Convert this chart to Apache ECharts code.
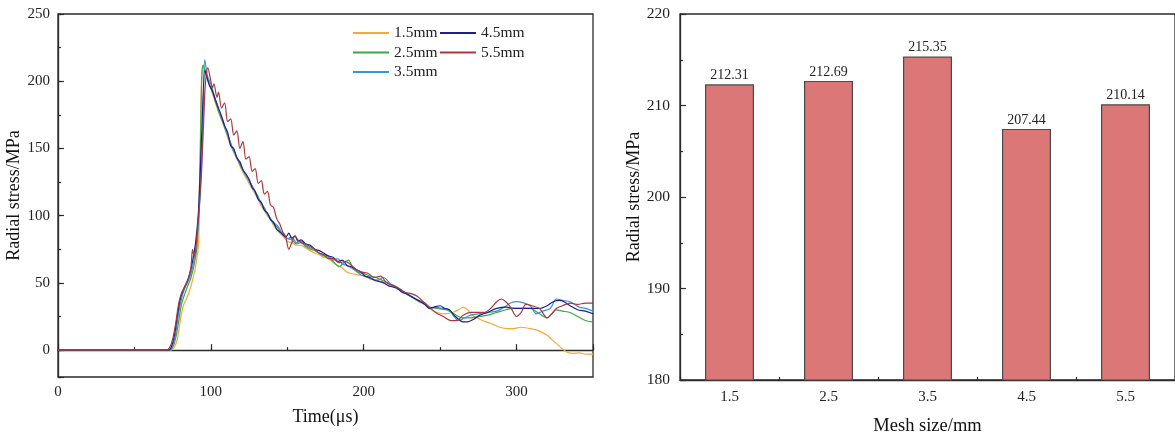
<!DOCTYPE html>
<html>
<head>
<meta charset="utf-8">
<script src="https://cdn.jsdelivr.net/npm/echarts@6/dist/echarts.min.js"></script>
<style>
html,body{margin:0;padding:0;background:#fff;}
#c{width:1175px;height:441px;}
</style>
</head>
<body>
<div id="c"></div>
<script>
// ---------- Left chart: radial stress vs time (t in µs, stress in MPa) ----------
const seriesNames = ['1.5mm', '2.5mm', '3.5mm', '4.5mm', '5.5mm'];
const seriesColors = ['#F8A83A', '#3BA944', '#3A95D5', '#1E1E94', '#A9393F'];

const stress15 = [[0,0],[74,0],[76,2],[78,8],[80,22],[82,33],[84,38],[86,44],[88,52],[90,62],[92,80],[93,150],[94,205],[95,212],[97,205],[99,198],[101,191],[103,184],[105,177],[107,171],[109,165],[111,158],[113,152],[115,147],[117,142],[119,137],[121,132],[123,128],[125,124],[127,120],[129,116],[131,112],[133,107],[135,104],[137,100],[139,97],[141,93],[143,90],[145,87],[147,85],[150,81],[153,80],[156,78],[159,78],[162,76],[165,74],[168,72],[171,71],[174,69],[177,68],[180,65],[183,63],[186,61],[189,58],[192,57],[196,56],[200,55],[204,53],[208,52],[212,51],[216,50],[220,47],[224,45],[228,42],[232,39],[236,36],[240,34],[243,31],[248,28],[253,27],[258,28],[262,30],[265,32],[268,30],[271,26],[276,23],[280,21],[285,19],[289,17],[294,16],[298,16],[303,17],[309,16],[313,15],[317,13],[320,11],[323,8],[326,5],[330,1],[333,-1.5],[337,-2.5],[341,-2],[345,-3],[350,-3]];

const stress25 = [[0,0],[73,0],[75,2],[77,9],[79,22],[81,35],[83,42],[85,48],[87,54],[89,63],[91,78],[93,140],[94,200],[95,212],[97,204],[99,198],[101,192],[103,185],[105,178],[107,172],[109,166],[111,160],[113,154],[115,148],[117,143],[119,138],[121,134],[123,130],[125,126],[127,122],[129,118],[131,114],[133,109],[135,106],[137,101],[139,98],[141,94],[143,92],[145,89],[147,86],[150,83],[153,82],[156,79],[159,80],[162,77],[165,75],[168,74],[171,72],[174,70],[177,69],[180,66],[184,62],[187,65],[190,67],[193,61],[196,58],[200,57],[204,55],[208,54],[212,52],[216,50],[220,48],[224,45],[228,42],[232,39],[236,37],[240,35],[243,32],[248,31],[254,30],[259,27],[265,24],[270,24],[276,25],[281,26],[287,28],[293,30],[298,31],[304,31],[309,31],[315,27],[320,24],[323,27],[326,30],[330,29],[335,28],[340,25],[345,22],[350,21]];

const stress35 = [[0,0],[73,0],[75,3],[77,12],[79,28],[81,39],[83,46],[85,51],[87,57],[89,67],[91,84],[93,115],[95,175],[96,216],[98,203],[100,198],[102,190],[104,183],[106,176],[108,170],[110,163],[112,157],[114,150],[116,146],[118,141],[120,137],[122,132],[124,128],[126,124],[128,120],[130,115],[132,111],[134,107],[136,103],[138,100],[140,96],[142,94],[144,92],[146,88],[148,86],[150,83],[153,84],[156,80],[159,81],[162,78],[165,76],[168,75],[171,72],[174,71],[177,70],[180,67],[183,68],[186,64],[189,63],[192,61],[195,59],[198,56],[201,55],[205,53],[209,52],[213,54],[217,50],[221,46],[225,44],[229,41],[233,39],[237,36],[240,34],[243,31],[247,32],[251,31],[256,30],[259,25],[262,22],[266,24],[270,26],[275,27],[281,28],[287,29],[292,32],[296,35],[300,36],[305,35],[309,33],[313,27],[317,29],[322,31],[326,38],[330,37],[335,36],[341,32],[345,31],[350,29]];

const stress45 = [[0,0],[72,0],[74,2],[76,10],[78,25],[80,38],[82,45],[84,50],[86,56],[88,66],[90,80],[92,105],[94,160],[96,208],[97,205],[99,197],[101,193],[103,186],[105,180],[107,174],[109,167],[111,162],[113,152],[115,150],[117,143],[119,140],[121,134],[123,131],[125,127],[127,121],[129,118],[131,112],[133,110],[135,104],[137,102],[139,97],[141,95],[143,90],[145,88],[147,86],[149,84],[151,87],[153,83],[155,85],[157,81],[159,82],[162,79],[165,78],[168,75],[171,74],[174,72],[177,70],[180,69],[183,66],[186,67],[189,63],[192,62],[195,60],[198,58],[201,55],[204,54],[207,52],[210,51],[213,50],[216,48],[219,47],[222,46],[225,43],[228,42],[231,40],[234,38],[237,36],[240,34],[243,31],[246,32],[250,33],[253,31],[256,30],[260,25],[265,21],[268,21],[272,23],[276,26],[281,28],[287,31],[293,32],[299,31],[304,31],[310,31],[315,31],[320,33],[324,36],[328,37],[331,36],[335,33],[340,30],[345,29],[350,27]];

const stress55 = [[0,0],[71,0],[73,2],[75,8],[77,20],[79,35],[81,43],[83,47],[85,52],[87,62],[88,75],[89,70],[90,74],[92,100],[94,135],[96,190],[97,205],[98,210],[100,200],[101,195],[102,198],[104,188],[105,192],[107,180],[109,184],[111,170],[113,172],[115,160],[117,163],[119,150],[121,155],[123,142],[125,144],[127,133],[129,135],[131,124],[133,126],[135,116],[137,118],[139,108],[141,106],[143,98],[145,94],[147,88],[149,84],[151,75],[153,80],[155,85],[157,82],[159,80],[162,79],[165,77],[168,75],[171,72],[174,71],[177,68],[180,68],[184,65],[188,66],[192,63],[195,60],[199,58],[203,57],[207,54],[211,55],[215,50],[219,48],[223,46],[227,43],[231,42],[235,40],[239,36],[243,32],[247,28],[252,25],[257,22],[261,22],[265,26],[270,28],[275,28],[279,28],[283,31],[287,36],[290,38],[293,36],[296,32],[300,25],[303,28],[306,34],[310,33],[315,31],[320,24],[323,27],[326,31],[330,33],[335,35],[340,34],[345,35],[350,35]];

const lineData = [stress15, stress25, stress35, stress45, stress55];

// ---------- Right chart: peak radial stress vs mesh size ----------
const meshSizes = ['1.5', '2.5', '3.5', '4.5', '5.5'];
const peakStress = [212.31, 212.69, 215.35, 207.44, 210.14];

const FONT = '"Liberation Serif", "Times New Roman", serif';
const AX = '#2b2b2b';

const chart = echarts.init(document.getElementById('c'), null, {renderer: 'canvas'});

const lineSeries = seriesNames.map((n, i) => ({
  name: n,
  type: 'line',
  xAxisIndex: 0,
  yAxisIndex: 0,
  data: lineData[i],
  symbol: 'none',
  showSymbol: false,
  smooth: 0.3,
  lineStyle: {width: 1.2, color: seriesColors[i]},
  itemStyle: {color: seriesColors[i]},
  z: 3 + i
}));

const legendBase = {
  orient: 'vertical', top: 25, padding: 0,
  icon: 'rect', itemWidth: 36, itemHeight: 2, itemGap: 3.5,
  textStyle: {fontFamily: FONT, fontSize: 15.5, color: '#222', lineHeight: 16}
};

const option = {
  backgroundColor: '#ffffff',
  animation: false,
  textStyle: {fontFamily: FONT},
  grid: [
    {left: 58, top: 14, width: 535, height: 363, show: true, borderColor: AX, borderWidth: 1.3, backgroundColor: 'transparent'},
    {left: 680, top: 14, width: 498, height: 369, show: true, borderColor: AX, borderWidth: 1.3, backgroundColor: 'transparent'}
  ],
  legend: [
    Object.assign({}, legendBase, {data: seriesNames.slice(0, 3), left: 353}),
    Object.assign({}, legendBase, {data: seriesNames.slice(3), left: 440})
  ],
  xAxis: [
    {
      gridIndex: 0, type: 'value', min: 0, max: 350, interval: 100, position: 'bottom',
      name: 'Time(μs)', nameLocation: 'middle', nameGap: 31,
      nameTextStyle: {fontFamily: FONT, fontSize: 18, color: '#111'},
      axisLine: {show: true, lineStyle: {color: AX, width: 1.3}},
      axisTick: {show: true, inside: true, length: 6, lineStyle: {color: AX, width: 1.2}},
      axisLabel: {fontFamily: FONT, fontSize: 15, color: '#222', margin: 8,
        formatter: v => (v % 100 === 0 && v <= 300) ? String(v) : ''},
      splitLine: {show: false}
    },
    {
      gridIndex: 0, type: 'value', min: 0, max: 350, interval: 50, position: 'bottom',
      axisLine: {show: false},
      axisTick: {show: true, inside: true, length: 3, lineStyle: {color: AX, width: 1.2}},
      axisLabel: {show: false},
      splitLine: {show: false}
    },
    {
      gridIndex: 1, type: 'category', data: meshSizes, position: 'bottom', boundaryGap: true,
      name: 'Mesh size/mm', nameLocation: 'middle', nameGap: 37,
      nameTextStyle: {fontFamily: FONT, fontSize: 18.5, color: '#111'},
      axisLine: {show: true, lineStyle: {color: AX, width: 1.3}},
      axisTick: {show: true, inside: true, alignWithLabel: true, length: 6, lineStyle: {color: AX, width: 1.2}},
      axisLabel: {fontFamily: FONT, fontSize: 15, color: '#222', margin: 10},
      splitLine: {show: false}
    },
    {
      gridIndex: 1, type: 'category', data: meshSizes, position: 'bottom', boundaryGap: true,
      axisLine: {show: false},
      axisTick: {show: true, inside: true, alignWithLabel: false, length: 3, lineStyle: {color: AX, width: 1.2}},
      axisLabel: {show: false},
      splitLine: {show: false}
    }
  ],
  yAxis: [
    {
      gridIndex: 0, type: 'value', min: -20, max: 250, minInterval: 50, maxInterval: 50, position: 'left',
      name: 'Radial stress/MPa', nameLocation: 'middle', nameGap: 32, nameRotate: 90,
      nameTextStyle: {fontFamily: FONT, fontSize: 18, color: '#111'},
      axisLine: {show: true, lineStyle: {color: AX, width: 1.3}},
      axisTick: {show: true, inside: true, length: 6, lineStyle: {color: AX, width: 1.2}},
      axisLabel: {fontFamily: FONT, fontSize: 15, color: '#222', margin: 8,
        formatter: v => (v % 50 === 0) ? String(v) : ''},
      splitLine: {show: false}
    },
    {
      gridIndex: 0, type: 'value', min: -20, max: 250, minInterval: 25, maxInterval: 25, position: 'left',
      axisLine: {show: false},
      axisTick: {show: true, inside: true, length: 3, lineStyle: {color: AX, width: 1.2}},
      axisLabel: {show: false},
      splitLine: {show: false}
    },
    {
      gridIndex: 1, type: 'value', min: 180, max: 220, interval: 10, position: 'left',
      name: 'Radial stress/MPa', nameLocation: 'middle', nameGap: 36, nameRotate: 90,
      nameTextStyle: {fontFamily: FONT, fontSize: 18, color: '#111'},
      axisLine: {show: true, lineStyle: {color: AX, width: 1.3}},
      axisTick: {show: true, inside: true, length: 6, lineStyle: {color: AX, width: 1.2}},
      minorTick: {show: true, splitNumber: 2, length: 3, lineStyle: {color: AX, width: 1.2}},
      axisLabel: {fontFamily: FONT, fontSize: 15.5, color: '#222', margin: 10},
      splitLine: {show: false}
    }
  ],
  series: lineSeries.concat([
    {
      name: 'Peak',
      type: 'bar',
      xAxisIndex: 2,
      yAxisIndex: 2,
      data: peakStress,
      barWidth: 49,
      itemStyle: {color: '#DC7777', borderColor: '#4a4a4a', borderWidth: 1.2},
      label: {show: true, position: 'top', distance: 2, fontFamily: FONT, fontSize: 14, color: '#222',
        formatter: p => p.value.toFixed(2)},
      z: 2
    }
  ])
};

chart.setOption(option);
</script>
</body>
</html>
